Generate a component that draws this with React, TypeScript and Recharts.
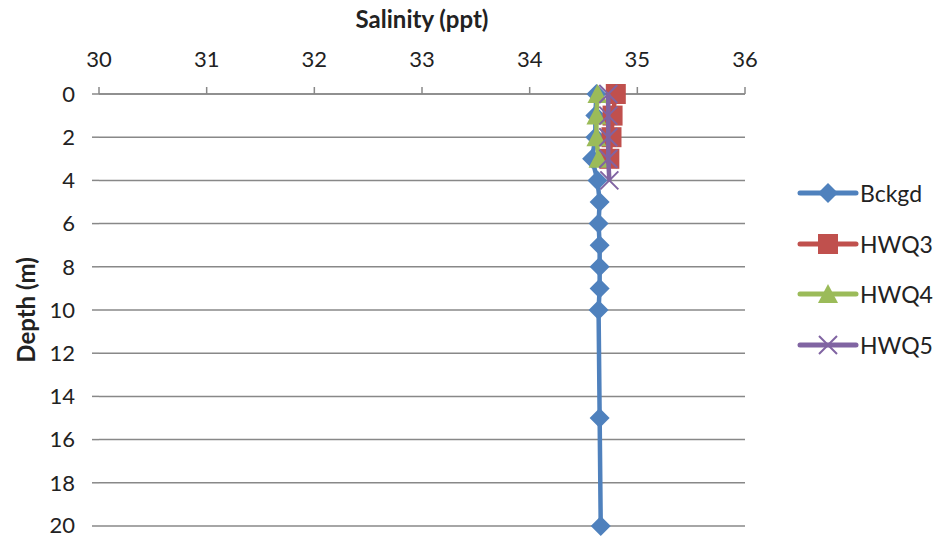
import React from 'react';
import { ScatterChart, Scatter, XAxis, YAxis, CartesianGrid } from 'recharts';

const salinityTicks = [30, 31, 32, 33, 34, 35, 36];
const depthTicks = [0, 2, 4, 6, 8, 10, 12, 14, 16, 18, 20];

const bckgdDepth = [0, 1, 2, 3, 4, 5, 6, 7, 8, 9, 10, 15, 20];
const bckgdSal = [34.62, 34.61, 34.61, 34.58, 34.63, 34.65, 34.64, 34.65, 34.65, 34.65, 34.64, 34.65, 34.66];

const hwq3Depth = [0, 1, 2, 3];
const hwq3Sal = [34.8, 34.77, 34.76, 34.74];

const hwq4Depth = [0, 1, 2, 3];
const hwq4Sal = [34.63, 34.62, 34.62, 34.64];

const hwq5Depth = [0, 1, 2, 3, 4];
const hwq5Sal = [34.73, 34.73, 34.73, 34.73, 34.74];

const BLUE = '#4f81bd';
const RED = '#c0504d';
const GREEN = '#9bbb59';
const PURPLE = '#8064a2';
const GRID = '#888888';
const FONT = 'Lato, "Open Sans", sans-serif';

const toPoints = (depth: number[], sal: number[]) =>
  depth.map((d, i) => ({ depth: d, sal: sal[i] }));

const Diamond = ({ cx, cy, fill }: any) => (
  <path d={`M${cx},${cy - 10} L${cx + 10},${cy} L${cx},${cy + 10} L${cx - 10},${cy} Z`} fill={fill} />
);
const Square = ({ cx, cy, fill }: any) => (
  <rect x={cx - 10} y={cy - 10} width={20} height={20} fill={fill} />
);
const Triangle = ({ cx, cy, fill }: any) => (
  <path d={`M${cx},${cy - 10} L${cx + 10},${cy + 9} L${cx - 10},${cy + 9} Z`} fill={fill} />
);
const Cross = ({ cx, cy, fill }: any) => (
  <path
    d={`M${cx - 9},${cy - 9} L${cx + 9},${cy + 9} M${cx + 9},${cy - 9} L${cx - 9},${cy + 9}`}
    stroke={fill}
    strokeWidth={2}
    fill="none"
  />
);

const series = [
  { name: 'Bckgd', color: BLUE, data: toPoints(bckgdDepth, bckgdSal), shape: Diamond },
  { name: 'HWQ3', color: RED, data: toPoints(hwq3Depth, hwq3Sal), shape: Square },
  { name: 'HWQ4', color: GREEN, data: toPoints(hwq4Depth, hwq4Sal), shape: Triangle },
  { name: 'HWQ5', color: PURPLE, data: toPoints(hwq5Depth, hwq5Sal), shape: Cross },
];

const tickStyle = { fill: '#222', fontSize: 22, fontFamily: FONT };

export default function App() {
  return (
    <div style={{ position: 'absolute', left: 0, top: 0, width: 943, height: 538, background: '#fff' }}>
      <ScatterChart width={943} height={538} margin={{ top: 0, right: 198, bottom: 12, left: 0 }}>
        <CartesianGrid horizontal vertical={false} stroke={GRID} strokeWidth={1.5} />
        <XAxis
          xAxisId={0}
          type="number"
          dataKey="sal"
          orientation="top"
          domain={[30, 36]}
          ticks={salinityTicks}
          height={94}
          axisLine={{ stroke: GRID, strokeWidth: 1.5 }}
          tickLine={{ stroke: GRID, strokeWidth: 1.5 }}
          tickSize={7}
          tickMargin={20}
          tick={tickStyle}
          label={{
            content: ({ viewBox }: any) => (
              <text
                x={viewBox.x + viewBox.width / 2}
                y={28}
                textAnchor="middle"
                fontFamily={FONT}
                fontWeight="bold"
                fontSize={24}
                fill="#222"
              >
                Salinity (ppt)
              </text>
            ),
          }}
        />
        <YAxis
          yAxisId={0}
          type="number"
          dataKey="depth"
          reversed
          domain={[0, 20]}
          ticks={depthTicks}
          width={99}
          axisLine={false}
          tickLine={{ stroke: GRID, strokeWidth: 1.5 }}
          tickSize={7}
          tickMargin={17}
          tick={tickStyle}
          label={{
            content: ({ viewBox }: any) => (
              <text
                x={35}
                y={viewBox.y + viewBox.height / 2}
                transform={`rotate(-90, 35, ${viewBox.y + viewBox.height / 2})`}
                textAnchor="middle"
                fontFamily={FONT}
                fontWeight="bold"
                fontSize={24}
                fill="#222"
              >
                Depth (m)
              </text>
            ),
          }}
        />
        {series.map((s) => (
          <Scatter
            key={s.name}
            name={s.name}
            data={s.data}
            fill={s.color}
            line={{ stroke: s.color, strokeWidth: 4.5 }}
            lineType="joint"
            shape={s.shape}
            isAnimationActive={false}
          />
        ))}
      </ScatterChart>
      <div style={{ position: 'absolute', left: 797, top: 168, fontFamily: FONT, fontSize: 23, color: '#222' }}>
        {series.map((s) => (
          <div key={s.name} style={{ display: 'flex', alignItems: 'center', height: 50.5 }}>
            <svg width={62} height={24} style={{ marginRight: 1 }}>
              <line x1={3} y1={12} x2={59} y2={12} stroke={s.color} strokeWidth={5} strokeLinecap="round" />
              <s.shape cx={31} cy={12} fill={s.color} />
            </svg>
            <span>{s.name}</span>
          </div>
        ))}
      </div>
    </div>
  );
}
